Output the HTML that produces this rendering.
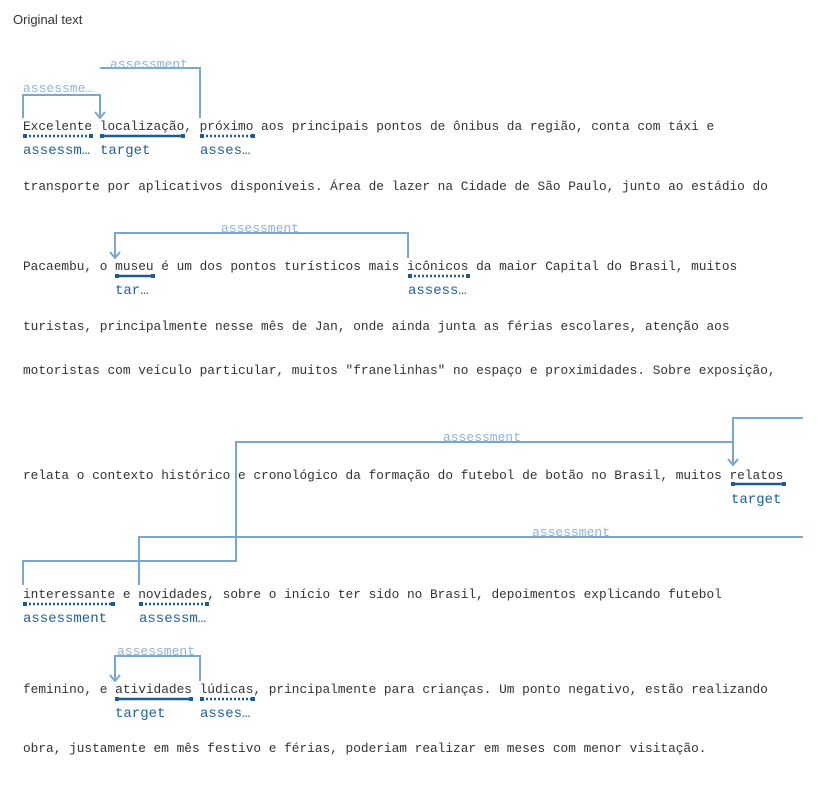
<!DOCTYPE html>
<html><head><meta charset="utf-8">
<style>
html,body{margin:0;padding:0;background:#fff;width:833px;height:791px;overflow:hidden}
svg{display:block}
.t{font-family:"Liberation Mono",monospace;font-size:12.8px;fill:#333}
.l{font-family:"Liberation Mono",monospace;font-size:14px;fill:#1f5f9a}
.a{font-family:"Liberation Mono",monospace;font-size:13px;fill:#8fb3d6}
.arc{fill:none;stroke:#7aa7cf;stroke-width:2}
.tg{stroke:#1f5a94;stroke-width:2.5}
.as{stroke:#1f5a94;stroke-width:2.5;stroke-dasharray:2 2}
.sq{fill:#1f5a94}
</style></head><body>
<svg width="833" height="791" xmlns="http://www.w3.org/2000/svg">
<text x="13" y="24" style="font-family:'Liberation Sans',sans-serif;font-size:13px;fill:#333">Original text</text>

<!-- arcs row1 -->
<path class="arc" d="M23 118 V95 H100 V118"/>
<path class="arc" d="M200 118 V68 H100"/>
<path class="arc" d="M95 112 L100 118 L105 112"/>
<text class="a" x="23" y="92">assessme…</text>
<text class="a" x="110" y="68">assessment</text>

<text class="t" x="23" y="130">Excelente localização, próximo aos principais pontos de ônibus da região, conta com táxi e</text>
<line class="as" x1="25" y1="136" x2="92" y2="136"/><rect class="sq" x="23" y="134" width="4" height="4"/><rect class="sq" x="89" y="134" width="4" height="4"/>
<line class="tg" x1="101" y1="136" x2="184" y2="136"/><rect class="sq" x="100" y="134" width="4" height="4"/><rect class="sq" x="181" y="134" width="4" height="4"/>
<line class="as" x1="202" y1="136" x2="254" y2="136"/><rect class="sq" x="200" y="134" width="4" height="4"/><rect class="sq" x="251" y="134" width="4" height="4"/>
<text class="l" x="23" y="154">assessm…</text>
<text class="l" x="100" y="154">target</text>
<text class="l" x="200" y="154">asses…</text>

<text class="t" x="23" y="190">transporte por aplicativos disponíveis. Área de lazer na Cidade de São Paulo, junto ao estádio do</text>

<!-- row3 -->
<path class="arc" d="M408 258 V233 H115 V258"/>
<path class="arc" d="M110 252 L115 258 L120 252"/>
<text class="a" x="221" y="232">assessment</text>
<text class="t" x="23" y="270">Pacaembu, o museu é um dos pontos turísticos mais icônicos da maior Capital do Brasil, muitos</text>
<line class="tg" x1="116" y1="276" x2="154" y2="276"/><rect class="sq" x="115" y="274" width="4" height="4"/><rect class="sq" x="151" y="274" width="4" height="4"/>
<line class="as" x1="410" y1="276" x2="470" y2="276"/><rect class="sq" x="408" y="274" width="4" height="4"/><rect class="sq" x="466" y="274" width="4" height="4"/>
<text class="l" x="115" y="294">tar…</text>
<text class="l" x="408" y="294">assess…</text>

<text class="t" x="23" y="330">turistas, principalmente nesse mês de Jan, onde ainda junta as férias escolares, atenção aos</text>
<text class="t" x="23" y="374">motoristas com veículo particular, muitos "franelinhas" no espaço e proximidades. Sobre exposição,</text>

<!-- row6/7 -->
<path class="arc" d="M803 418 H733 V465"/>
<path class="arc" d="M728 459 L733 465 L738 459"/>
<path class="arc" d="M733 442 H236 V561 H23 V585"/>
<path class="arc" d="M803 537 H139 V585"/>
<text class="a" x="443" y="441">assessment</text>
<text class="a" x="532" y="536">assessment</text>

<text class="t" x="23" y="479">relata o contexto histórico e cronológico da formação do futebol de botão no Brasil, muitos relatos</text>
<line class="tg" x1="733" y1="484" x2="785" y2="484"/><rect class="sq" x="731" y="482" width="4" height="4"/><rect class="sq" x="782" y="482" width="4" height="4"/>
<text class="l" x="731" y="503">target</text>

<text class="t" x="23" y="598">interessante e novidades, sobre o início ter sido no Brasil, depoimentos explicando futebol</text>
<line class="as" x1="25" y1="604" x2="115" y2="604"/><rect class="sq" x="23" y="602" width="4" height="4"/><rect class="sq" x="111" y="602" width="4" height="4"/>
<line class="as" x1="141" y1="604" x2="208" y2="604"/><rect class="sq" x="139" y="602" width="4" height="4"/><rect class="sq" x="205" y="602" width="4" height="4"/>
<text class="l" x="23" y="622">assessment</text>
<text class="l" x="139" y="622">assessm…</text>

<!-- row8 -->
<path class="arc" d="M200 681 V656 H115 V681"/>
<path class="arc" d="M110 675 L115 681 L120 675"/>
<text class="a" x="117" y="655">assessment</text>
<text class="t" x="23" y="693">feminino, e atividades lúdicas, principalmente para crianças. Um ponto negativo, estão realizando</text>
<line class="tg" x1="116" y1="699" x2="192" y2="699"/><rect class="sq" x="115" y="697" width="4" height="4"/><rect class="sq" x="189" y="697" width="4" height="4"/>
<line class="as" x1="202" y1="699" x2="254" y2="699"/><rect class="sq" x="200" y="697" width="4" height="4"/><rect class="sq" x="251" y="697" width="4" height="4"/>
<text class="l" x="115" y="717">target</text>
<text class="l" x="200" y="717">asses…</text>

<text class="t" x="23" y="752">obra, justamente em mês festivo e férias, poderiam realizar em meses com menor visitação.</text>
</svg>
</body></html>
